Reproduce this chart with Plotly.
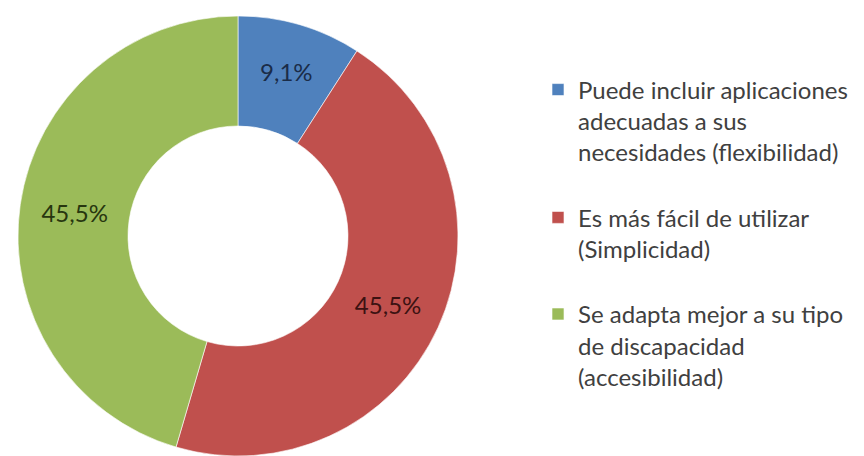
import plotly.graph_objects as go

categories = [
    "Puede incluir aplicaciones<br>adecuadas a sus<br>necesidades (flexibilidad)<br>\u00a0",
    "Es más fácil de utilizar<br>(Simplicidad)<br>\u00a0",
    "Se adapta mejor a su tipo<br>de discapacidad<br>(accesibilidad)",
]
percent_values = [9.1, 45.5, 45.5]
colors = ["#4F81BD", "#C0504D", "#9BBB59"]
text_colors = ["#1a2c48", "#3c1212", "#27360f"]

labels_text = [f"{v:.1f}%".replace(".", ",") for v in percent_values]

fig = go.Figure(
    go.Pie(
        labels=categories,
        values=percent_values,
        text=labels_text,
        textinfo="text",
        textposition="inside",
        insidetextorientation="horizontal",
        insidetextfont=dict(family="Lato", size=24, color=text_colors),
        marker=dict(colors=colors, line=dict(color="white", width=0.6)),
        hole=0.5,
        sort=False,
        direction="clockwise",
        rotation=0,
        domain=dict(x=[0.0208, 0.5301], y=[0, 1]),
        showlegend=True,
    )
)

fig.update_layout(
    width=864,
    height=456,
    margin=dict(l=0, r=0, t=16, b=0),
    paper_bgcolor="white",
    plot_bgcolor="white",
    font=dict(family="Lato", color="#404040"),
    legend=dict(
        x=0.6227,
        y=0.883,
        xanchor="left",
        yanchor="top",
        valign="top",
        font=dict(family="Lato", size=24, color="#404040"),
        itemwidth=30,
        bgcolor="rgba(0,0,0,0)",
    ),
)

fig.write_html(
    "out.html",
    config={"displayModeBar": False},
    post_script="document.body.style.margin='0';",
)
